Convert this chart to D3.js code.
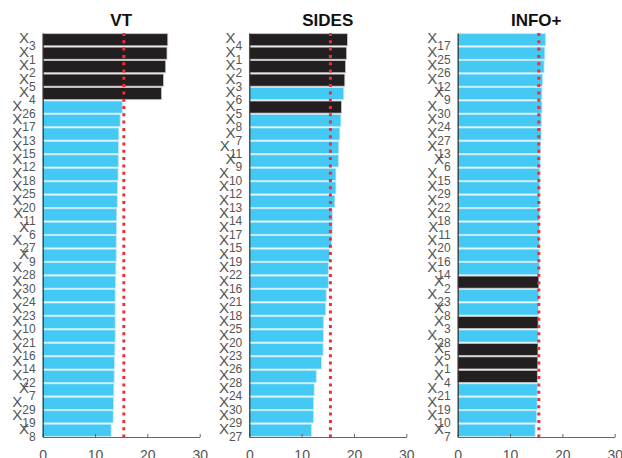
<!DOCTYPE html>
<html>
<head>
<meta charset="utf-8">
<script src="https://cdn.jsdelivr.net/npm/d3@7"></script>
<style>
  html, body { margin: 0; padding: 0; background: #fff; }
  svg { display: block; font-family: "Liberation Sans", Arial, Helvetica, sans-serif; }
</style>
</head>
<body>
<svg id="chart" width="622" height="458"></svg>
<script>
// Variable indices (top to bottom) and scores for each method
const vtVars    = [3, 1, 2, 5, 4, 26, 17, 13, 15, 12, 18, 25, 20, 11, 6, 27, 9, 28, 30, 24, 23, 10, 21, 16, 14, 22, 7, 29, 19, 8];
const vtValues  = [23.9, 23.75, 23.5, 23.1, 22.7, 15.2, 14.8, 14.55, 14.5, 14.45, 14.4, 14.3, 14.25, 14.15, 14.1,
                   14.05, 14.05, 13.98, 13.9, 13.85, 13.85, 13.85, 13.85, 13.8, 13.72, 13.66, 13.6, 13.53, 13.47, 13.08];

const sidesVars   = [4, 1, 2, 3, 6, 5, 8, 7, 11, 9, 10, 12, 13, 14, 17, 15, 19, 22, 16, 21, 18, 25, 20, 23, 26, 28, 24, 30, 29, 27];
const sidesValues = [18.75, 18.6, 18.4, 18.25, 18.05, 17.6, 17.5, 17.3, 17.1, 17.05, 16.55, 16.55, 16.35, 15.85, 15.85,
                     15.7, 15.35, 15.1, 15.1, 14.7, 14.6, 14.2, 14.15, 14.1, 13.8, 12.8, 12.4, 12.3, 12.25, 11.9];

const infoVars   = [17, 25, 26, 12, 9, 30, 24, 27, 13, 6, 15, 29, 22, 18, 11, 20, 16, 14, 2, 23, 8, 3, 28, 5, 1, 4, 21, 19, 10, 7];
const infoValues = [16.8, 16.65, 16.5, 16.2, 16.1, 16.1, 16.0, 15.95, 15.8, 15.75, 15.7, 15.7, 15.68, 15.66, 15.65,
                    15.62, 15.6, 15.6, 15.5, 15.5, 15.4, 15.38, 15.36, 15.34, 15.3, 15.22, 15.2, 15.18, 15.1, 14.8];

const titles = ["VT", "SIDES", "INFO+"];
const relevantVars = [1, 2, 3, 4, 5];   // true predictors, drawn in black
const threshold = 15.5;                 // red dotted reference line
const xTicks = [0, 10, 20, 30];

const panels = [
  { title: titles[0], vars: vtVars,    values: vtValues },
  { title: titles[1], vars: sidesVars, values: sidesValues },
  { title: titles[2], vars: infoVars,  values: infoValues }
];

const svg = d3.select("#chart");
const panelLeft = [42.7, 249.3, 457.7];
const panelWidth = 157;
const plotTop = 33, plotBottom = 437;

panels.forEach((p, i) => {
  const rows = p.vars.map((v, k) => ({ v, value: p.values[k] }));
  const x = d3.scaleLinear().domain([0, 30]).range([panelLeft[i], panelLeft[i] + panelWidth]);
  const y = d3.scaleBand().domain(p.vars.map(String)).range([plotTop, plotBottom]).paddingInner(0.1).paddingOuter(0.05);
  const g = svg.append("g");

  // bars
  g.selectAll("rect.bar").data(rows).join("rect")
    .attr("class", "bar")
    .attr("x", x(0))
    .attr("y", d => y(String(d.v)))
    .attr("width", d => x(d.value) - x(0))
    .attr("height", y.bandwidth())
    .attr("fill", d => relevantVars.includes(d.v) ? "#231f20" : "#44c8f4")
    .attr("stroke", d => relevantVars.includes(d.v) ? "#c8c8c8" : "#bfe9fb")
    .attr("stroke-width", 0.8);

  // threshold line
  g.append("line")
    .attr("x1", x(threshold)).attr("x2", x(threshold))
    .attr("y1", plotTop).attr("y2", plotBottom)
    .attr("stroke", "#ee2f37")
    .attr("stroke-width", 3)
    .attr("stroke-dasharray", "3,4.3");

  // x axis
  const xa = g.append("g").attr("transform", `translate(0,${plotBottom})`)
    .call(d3.axisBottom(x).tickValues(xTicks).tickSize(-3).tickPadding(13).tickSizeOuter(0));
  xa.select(".domain").attr("stroke", "#666").attr("stroke-width", 1);
  xa.selectAll(".tick line").attr("stroke", "#666");
  xa.selectAll(".tick text").attr("fill", "#555").attr("font-size", 14)
    .attr("font-family", "'Liberation Sans', Arial, sans-serif");

  // y axis line (labels drawn separately with subscripts)
  const ya = g.append("g").attr("transform", `translate(${x(0)},0)`)
    .call(d3.axisLeft(y).tickSize(0).tickFormat(""));
  ya.select(".domain").attr("stroke", "#333").attr("stroke-width", 1.2);

  // X_k labels
  const labels = g.selectAll("text.lab").data(rows).join("text")
    .attr("class", "lab")
    .attr("x", x(0) - 7)
    .attr("y", d => y(String(d.v)) + y.bandwidth() / 2 + 3.5)
    .attr("text-anchor", "end")
    .attr("fill", "#555");
  labels.append("tspan").attr("font-size", 15).text("X");
  labels.append("tspan").attr("font-size", 12).attr("dy", 7).text(d => d.v);

  // title
  g.append("text")
    .attr("x", (x(0) + x(30)) / 2)
    .attr("y", 26)
    .attr("text-anchor", "middle")
    .attr("font-size", 17)
    .attr("font-weight", "bold")
    .attr("fill", "#111")
    .text(p.title);
});
</script>
</body>
</html>
